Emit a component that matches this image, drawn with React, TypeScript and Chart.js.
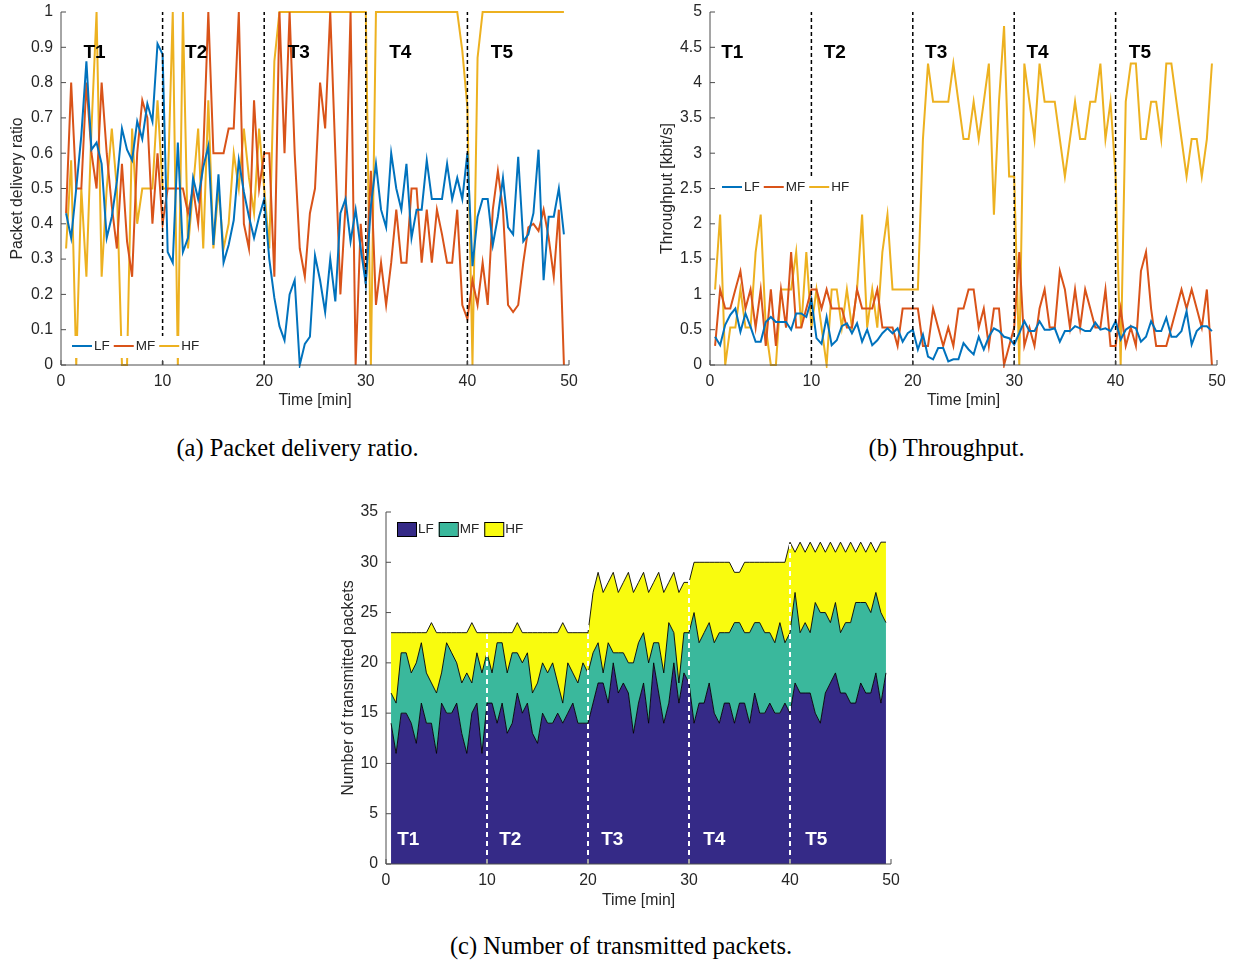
import React, { useEffect, useRef } from "react";
import { Chart, registerables } from "chart.js";

Chart.register(...registerables);

// ---------------- data ----------------
const SERIES_NAMES = ["LF", "MF", "HF"];
const PERIOD_LABELS = ["T1", "T2", "T3", "T4", "T5"];
const PERIOD_BOUNDS = [10, 20, 30, 40];
const X_TICKS_MAX = 50;

// (a) packet delivery ratio
const LF_PDR = [
  0.43, 0.36, 0.5, 0.65, 0.86, 0.61, 0.63, 0.57, 0.36, 0.42, 0.52, 0.67, 0.61, 0.58, 0.69, 0.64, 0.74, 0.69, 0.91, 0.88,
  0.32, 0.29, 0.63, 0.32, 0.36, 0.53, 0.47, 0.56, 0.62, 0.34, 0.54, 0.29, 0.34, 0.41, 0.58, 0.49, 0.42, 0.36, 0.42, 0.47,
  0.3, 0.19, 0.11, 0.07, 0.2, 0.24, 0.0, 0.06, 0.08, 0.31, 0.24, 0.15, 0.3, 0.18, 0.43, 0.47, 0.35, 0.44, 0.33, 0.23,
  0.45, 0.57, 0.44, 0.39, 0.6, 0.5, 0.44, 0.57, 0.36, 0.44, 0.44, 0.58, 0.47, 0.47, 0.47, 0.57, 0.47, 0.53, 0.47, 0.6,
  0.28, 0.42, 0.47, 0.47, 0.34, 0.42, 0.53, 0.39, 0.37, 0.59, 0.35, 0.37, 0.43, 0.61, 0.24, 0.42, 0.42, 0.5, 0.37,
];
const MF_PDR = [
  0.43, 0.8, 0.5, 0.5, 0.8, 0.6, 0.5, 0.8, 0.6, 0.45, 0.33, 0.57, 0.35, 0.25, 0.6, 0.75, 0.7, 0.4, 0.6, 0.4,
  0.5, 0.5, 0.5, 0.5, 0.43, 0.5, 0.4, 0.6, 1.0, 0.6, 0.6, 0.6, 0.67, 0.67, 1.0, 0.4, 0.33, 0.75, 0.5, 0.6,
  0.6, 0.25, 1.0, 0.6, 1.0, 0.6, 0.33, 0.25, 0.43, 0.5, 0.8, 0.67, 1.0, 0.6, 0.2, 0.45, 1.0, 0.0, 0.4, 0.23,
  0.55, 0.17, 0.29, 0.17, 0.29, 0.44, 0.29, 0.29, 0.5, 0.5, 0.29, 0.44, 0.29, 0.44, 0.37, 0.29, 0.29, 0.44, 0.17, 0.13,
  0.24, 0.17, 0.29, 0.17, 0.44, 0.55, 0.44, 0.17, 0.15, 0.17, 0.29, 0.39, 0.4, 0.38, 0.44, 0.36, 0.25, 0.44, 0.0,
];
const HF_PDR = [
  0.33, 0.58, 0.0, 0.5, 0.25, 0.67, 1.0, 0.25, 0.5, 0.67, 0.5, 0.0, 0.0, 0.67, 0.4, 0.5, 0.5, 0.5, 0.75, 0.5,
  0.5, 1.0, 0.0, 1.0, 0.33, 0.5, 0.67, 0.33, 0.75, 0.33, 0.5, 0.33, 0.4, 0.6, 0.5, 0.67, 0.53, 0.43, 0.67, 0.5,
  0.33, 0.86, 1.0, 1.0, 1.0, 1.0, 1.0, 1.0, 1.0, 1.0, 1.0, 1.0, 1.0, 1.0, 1.0, 1.0, 1.0, 1.0, 1.0, 1.0,
  0.0, 1.0, 1.0, 1.0, 1.0, 1.0, 1.0, 1.0, 1.0, 1.0, 1.0, 1.0, 1.0, 1.0, 1.0, 1.0, 1.0, 1.0, 0.89, 0.73,
  0.0, 0.87, 1.0, 1.0, 1.0, 1.0, 1.0, 1.0, 1.0, 1.0, 1.0, 1.0, 1.0, 1.0, 1.0, 1.0, 1.0, 1.0, 1.0,
];

// (b) throughput [kbit/s]
const LF_TP = [
  0.4, 0.28, 0.57, 0.71, 0.8, 0.47, 0.73, 0.54, 0.33, 0.33, 0.61, 0.68, 0.61, 0.61, 0.61, 0.5, 0.73, 0.73, 0.68, 0.93,
  0.38, 0.3, 0.68, 0.28, 0.35, 0.55, 0.59, 0.45, 0.59, 0.33, 0.5, 0.28, 0.35, 0.45, 0.52, 0.45, 0.52, 0.33, 0.45, 0.5,
  0.22, 0.43, 0.12, 0.08, 0.24, 0.24, 0.05, 0.08, 0.08, 0.31, 0.22, 0.15, 0.4, 0.22, 0.4, 0.52, 0.48, 0.4, 0.38, 0.29,
  0.45, 0.62, 0.48, 0.48, 0.62, 0.5, 0.5, 0.52, 0.33, 0.48, 0.48, 0.55, 0.52, 0.48, 0.48, 0.6, 0.5, 0.52, 0.48, 0.62,
  0.36, 0.5, 0.55, 0.52, 0.33, 0.4, 0.62, 0.48, 0.48, 0.67, 0.4, 0.4, 0.48, 0.76, 0.29, 0.48, 0.55, 0.55, 0.48,
];
const MF_TP = [
  0.27, 1.07, 0.8, 0.8, 1.07, 1.33, 0.8, 1.07, 0.53, 1.07, 0.27, 1.07, 0.27, 1.07, 0.53, 1.6, 0.53, 0.53, 0.8, 1.07,
  1.07, 0.8, 1.07, 0.8, 0.8, 0.8, 0.53, 0.53, 1.07, 0.8, 0.8, 0.8, 1.07, 0.53, 0.53, 0.53, 0.27, 0.8, 0.8, 0.8,
  0.8, 0.27, 0.27, 0.8, 0.53, 0.27, 0.53, 0.27, 0.8, 0.8, 1.07, 1.07, 0.53, 0.8, 0.27, 0.8, 0.8, 0.0, 0.27, 0.53,
  1.6, 0.27, 0.53, 0.27, 0.8, 1.07, 0.53, 0.53, 1.33, 1.07, 0.53, 1.07, 0.53, 1.07, 0.8, 0.53, 0.53, 1.07, 0.27, 0.27,
  0.8, 0.27, 0.53, 0.27, 1.33, 1.6, 0.8, 0.27, 0.27, 0.27, 0.53, 0.8, 1.07, 0.8, 1.07, 0.8, 0.53, 1.07, 0.0,
];
const HF_TP = [
  1.07, 2.13, 0.0, 0.53, 0.53, 1.07, 0.53, 0.53, 1.6, 2.13, 0.53, 0.0, 0.0, 1.07, 1.07, 1.07, 1.6, 0.53, 1.6, 0.53,
  1.07, 0.53, 0.0, 1.07, 1.07, 0.53, 1.07, 0.53, 1.07, 2.13, 0.53, 1.07, 0.53, 1.6, 2.13, 1.07, 1.07, 1.07, 1.07, 1.07,
  1.07, 3.2, 4.27, 3.73, 3.73, 3.73, 3.73, 4.27, 3.73, 3.2, 3.2, 3.73, 3.2, 3.73, 4.27, 2.13, 3.73, 4.8, 2.67, 2.67,
  0.0, 4.27, 3.73, 3.2, 4.27, 3.73, 3.73, 3.73, 3.2, 2.67, 3.2, 3.73, 3.2, 3.2, 3.73, 3.73, 4.27, 3.2, 3.73, 2.67,
  0.0, 3.73, 4.27, 4.27, 3.2, 3.2, 3.73, 3.73, 3.2, 4.27, 4.27, 3.73, 3.2, 2.67, 3.2, 3.2, 2.67, 3.2, 4.27,
];

// (c) number of transmitted packets (per class, stacked)
const LF_PKT = [
  14, 11, 15, 15, 14, 12, 16, 14, 14, 11, 16, 15, 15, 16, 13, 11, 15, 16, 11, 16,
  16, 14, 16, 13, 14, 17, 15, 16, 13, 12, 15, 14, 14, 15, 14, 15, 16, 14, 14, 14,
  16, 18, 18, 16, 20, 17, 18, 17, 13, 16, 18, 14, 20, 17, 14, 16, 20, 16, 19, 18,
  14, 16, 16, 18, 15, 14, 16, 16, 14, 16, 16, 14, 17, 15, 15, 16, 15, 15, 16, 15,
  18, 17, 17, 17, 15, 14, 17, 18, 19, 17, 17, 16, 16, 18, 17, 17, 19, 16, 19,
];
const MF_PKT = [
  3, 5, 6, 6, 5, 8, 6, 5, 4, 6, 3, 7, 6, 4, 5, 8, 3, 5, 8, 5,
  3, 8, 6, 6, 7, 4, 5, 5, 4, 6, 5, 5, 6, 3, 2, 5, 3, 4, 6, 5,
  5, 4, 1, 6, 1, 4, 3, 3, 7, 6, 5, 6, 2, 5, 5, 8, 3, 2, 4, 5,
  11, 6, 7, 6, 7, 9, 7, 7, 10, 8, 7, 9, 7, 9, 8, 7, 7, 9, 6, 8,
  9, 6, 7, 6, 11, 11, 8, 6, 7, 6, 7, 8, 10, 8, 9, 8, 8, 9, 5,
];
const HF_PKT = [
  6, 7, 2, 2, 4, 3, 1, 4, 6, 6, 4, 1, 2, 3, 5, 4, 6, 2, 4, 2,
  4, 1, 1, 4, 2, 3, 3, 2, 6, 5, 3, 4, 3, 5, 8, 3, 4, 5, 3, 4,
  6, 7, 8, 6, 8, 6, 7, 9, 7, 6, 6, 7, 6, 7, 8, 4, 6, 9, 5, 5,
  5, 8, 7, 6, 8, 7, 7, 7, 5, 5, 7, 7, 6, 6, 7, 7, 8, 6, 8, 9,
  4, 9, 7, 9, 5, 7, 6, 8, 5, 9, 7, 8, 5, 6, 5, 7, 4, 7, 8,
];

// sample times [min], one sample every 30 s
const TIME = LF_PDR.map((_, k) => (k + 1) * 0.5);

// ---------------- styles ----------------
const FONT = "'Liberation Sans', Arial, Helvetica, sans-serif";
const TEXT_COLOR = "#262626";
const AXIS_COLOR = "#4d4d4d";
const LINE_COLORS = ["#0072BD", "#D95319", "#EDB120"];
const AREA_COLORS = ["#352A87", "#3AB89C", "#F9FB0E"];
const TICK_FONT = { family: FONT, size: 15.8 };

type LegendSpec = { x: number; y: number; kind: "line" | "box"; bg?: [number, number, number, number] };
type Spec = {
  yMax: number;
  yStep: number;
  yTitle: string;
  yAxisW: number;
  xAxisH: number;
  padTop: number;
  padRight: number;
  yTitlePad: number;
  labelX: number[];
  labelY: number;
  labelColor: string;
  dashColor: string;
  dashWidth: number;
  dash: number[];
  legend: LegendSpec;
};

function decorPlugin(spec: Spec) {
  return {
    id: "decor",
    afterDatasetsDraw(chart: any) {
      const { ctx, chartArea: a, scales } = chart;
      const x = scales.x;
      const y = scales.y;
      // period separators
      ctx.save();
      ctx.beginPath();
      ctx.rect(a.left, a.top, a.right - a.left, a.bottom - a.top);
      ctx.clip();
      ctx.strokeStyle = spec.dashColor;
      ctx.lineWidth = spec.dashWidth;
      ctx.setLineDash(spec.dash);
      for (const b of PERIOD_BOUNDS) {
        const px = x.getPixelForValue(b);
        ctx.beginPath();
        ctx.moveTo(px, a.bottom);
        ctx.lineTo(px, a.top);
        ctx.stroke();
      }
      ctx.restore();

      // axes with inward ticks
      ctx.save();
      ctx.strokeStyle = AXIS_COLOR;
      ctx.lineWidth = 1;
      ctx.setLineDash([]);
      ctx.beginPath();
      ctx.moveTo(a.left, a.top);
      ctx.lineTo(a.left, a.bottom);
      ctx.lineTo(a.right, a.bottom);
      ctx.stroke();
      y.ticks.forEach((t: any) => {
        const py = y.getPixelForValue(t.value);
        ctx.beginPath();
        ctx.moveTo(a.left, py);
        ctx.lineTo(a.left + 5, py);
        ctx.stroke();
      });
      x.ticks.forEach((t: any) => {
        const px = x.getPixelForValue(t.value);
        ctx.beginPath();
        ctx.moveTo(px, a.bottom);
        ctx.lineTo(px, a.bottom - 5);
        ctx.stroke();
      });

      // period labels
      ctx.font = `bold 19px ${FONT}`;
      ctx.fillStyle = spec.labelColor;
      ctx.textAlign = "center";
      ctx.textBaseline = "middle";
      PERIOD_LABELS.forEach((t, k) => {
        ctx.fillText(t, x.getPixelForValue(spec.labelX[k]), y.getPixelForValue(spec.labelY));
      });

      // legend
      const L = spec.legend;
      if (L.bg) {
        ctx.fillStyle = "#ffffff";
        ctx.fillRect(L.bg[0], L.bg[1], L.bg[2], L.bg[3]);
      }
      ctx.font = `13.5px ${FONT}`;
      ctx.textAlign = "left";
      ctx.textBaseline = "middle";
      let cx = L.x;
      SERIES_NAMES.forEach((name, s) => {
        if (L.kind === "line") {
          ctx.strokeStyle = LINE_COLORS[s];
          ctx.lineWidth = 2;
          ctx.beginPath();
          ctx.moveTo(cx, L.y);
          ctx.lineTo(cx + 20, L.y);
          ctx.stroke();
          ctx.fillStyle = TEXT_COLOR;
          ctx.fillText(name, cx + 22, L.y + 0.5);
          cx += 22 + ctx.measureText(name).width + 4;
        } else {
          ctx.fillStyle = AREA_COLORS[s];
          ctx.fillRect(cx, L.y - 7, 19, 14);
          ctx.strokeStyle = "#000";
          ctx.lineWidth = 1;
          ctx.strokeRect(cx + 0.5, L.y - 6.5, 19, 14);
          ctx.fillStyle = TEXT_COLOR;
          ctx.fillText(name, cx + 21, L.y + 0.5);
          cx += 21 + ctx.measureText(name).width + 5;
        }
      });
      ctx.restore();
    },
  };
}

function tickFmt(v: any) {
  return String(+Number(v).toFixed(2));
}

function baseOptions(spec: Spec, stacked: boolean) {
  return {
    responsive: false,
    animation: false as const,
    devicePixelRatio: 1,
    layout: { padding: { left: 0, top: spec.padTop, right: spec.padRight, bottom: 0 } },
    plugins: { legend: { display: false }, tooltip: { enabled: false } },
    elements: { point: { radius: 0 }, line: { tension: 0 } },
    scales: {
      x: {
        type: "linear" as const,
        min: 0,
        max: X_TICKS_MAX,
        afterFit: (s: any) => {
          s.height = spec.xAxisH;
          s.paddingLeft = 0;
          s.paddingRight = 0;
        },
        ticks: { stepSize: 10, padding: 7, color: TEXT_COLOR, font: TICK_FONT, maxRotation: 0, callback: tickFmt },
        grid: { display: false, drawTicks: false },
        border: { display: false },
        title: {
          display: true,
          text: "Time [min]",
          color: TEXT_COLOR,
          font: TICK_FONT,
          padding: { top: 0, bottom: 9.5 },
        },
      },
      y: {
        type: "linear" as const,
        min: 0,
        max: spec.yMax,
        stacked,
        afterFit: (s: any) => {
          s.width = spec.yAxisW;
          s.paddingTop = 0;
          s.paddingBottom = 0;
        },
        ticks: { stepSize: spec.yStep, padding: 8, color: TEXT_COLOR, font: TICK_FONT, callback: tickFmt },
        grid: { display: false, drawTicks: false },
        border: { display: false },
        title: {
          display: true,
          text: spec.yTitle,
          color: TEXT_COLOR,
          font: TICK_FONT,
          padding: { top: spec.yTitlePad, bottom: 0 },
        },
      },
    },
  };
}

function lineChart(canvas: HTMLCanvasElement, series: number[][], spec: Spec) {
  return new Chart(canvas, {
    type: "line",
    data: {
      datasets: series.map((arr, s) => ({
        label: SERIES_NAMES[s],
        data: TIME.map((t, k) => ({ x: t, y: arr[k] })),
        borderColor: LINE_COLORS[s],
        backgroundColor: LINE_COLORS[s],
        borderWidth: 2,
        pointRadius: 0,
        fill: false,
        clip: 3,
      })),
    },
    options: baseOptions(spec, false) as any,
    plugins: [decorPlugin(spec)],
  });
}

function areaChart(canvas: HTMLCanvasElement, series: number[][], spec: Spec) {
  return new Chart(canvas, {
    type: "line",
    data: {
      datasets: series.map((arr, s) => ({
        label: SERIES_NAMES[s],
        data: TIME.map((t, k) => ({ x: t, y: arr[k] })),
        borderColor: "#000000",
        backgroundColor: AREA_COLORS[s],
        borderWidth: 0.9,
        pointRadius: 0,
        fill: s === 0 ? "origin" : "-1",
      })),
    },
    options: baseOptions(spec, true) as any,
    plugins: [decorPlugin(spec)],
  });
}

const SPEC_A: Spec = {
  yMax: 1,
  yStep: 0.1,
  yTitle: "Packet delivery ratio",
  yAxisW: 61,
  xAxisH: 55,
  padTop: 12,
  padRight: 31,
  yTitlePad: 8,
  labelX: [3.3, 13.3, 23.4, 33.4, 43.4],
  labelY: 0.884,
  labelColor: "#000000",
  dashColor: "#000000",
  dashWidth: 1.5,
  dash: [4, 3],
  legend: { x: 72, y: 346, kind: "line", bg: [63, 336, 143, 22] },
};

const SPEC_B: Spec = {
  yMax: 5,
  yStep: 0.5,
  yTitle: "Throughput [kbit/s]",
  yAxisW: 70,
  xAxisH: 55,
  padTop: 12,
  padRight: 18,
  yTitlePad: 18,
  labelX: [2.2, 12.3, 22.3, 32.3, 42.4],
  labelY: 4.42,
  labelColor: "#000000",
  dashColor: "#000000",
  dashWidth: 1.5,
  dash: [4, 3],
  legend: { x: 82, y: 187, kind: "line", bg: [75, 176, 143, 22] },
};

const SPEC_C: Spec = {
  yMax: 35,
  yStep: 5,
  yTitle: "Number of transmitted packets",
  yAxisW: 66,
  xAxisH: 56,
  padTop: 22,
  padRight: 29,
  yTitlePad: 19,
  labelX: [2.2, 12.3, 22.4, 32.5, 42.6],
  labelY: 2.39,
  labelColor: "#ffffff",
  dashColor: "#ffffff",
  dashWidth: 2,
  dash: [5, 4],
  legend: { x: 77, y: 39, kind: "box" },
};

const captionStyle = (cx: number, cy: number): React.CSSProperties => ({
  position: "absolute",
  left: cx,
  top: cy,
  transform: "translate(-50%, -50%)",
  fontFamily: "'Liberation Serif', 'Times New Roman', serif",
  fontSize: 24.5,
  lineHeight: 1,
  whiteSpace: "nowrap",
  color: "#000",
});

export default function App() {
  const refA = useRef<HTMLCanvasElement>(null);
  const refB = useRef<HTMLCanvasElement>(null);
  const refC = useRef<HTMLCanvasElement>(null);

  useEffect(() => {
    const charts: Chart[] = [];
    if (refA.current) charts.push(lineChart(refA.current, [LF_PDR, MF_PDR, HF_PDR], SPEC_A));
    if (refB.current) charts.push(lineChart(refB.current, [LF_TP, MF_TP, HF_TP], SPEC_B));
    if (refC.current) charts.push(areaChart(refC.current, [LF_PKT, MF_PKT, HF_PKT], SPEC_C));
    return () => charts.forEach((c) => c.destroy());
  }, []);

  return (
    <div style={{ position: "absolute", left: 0, top: 0, width: 1235, height: 961, background: "#fff", overflow: "hidden" }}>
      <canvas ref={refA} width={600} height={420} style={{ position: "absolute", left: 0, top: 0, width: 600, height: 420 }} />
      <canvas ref={refB} width={595} height={420} style={{ position: "absolute", left: 640, top: 0, width: 595, height: 420 }} />
      <canvas ref={refC} width={600} height={430} style={{ position: "absolute", left: 320, top: 490, width: 600, height: 430 }} />
      <div style={captionStyle(297.5, 448)}>(a) Packet delivery ratio.</div>
      <div style={captionStyle(946.5, 448)}>(b) Throughput.</div>
      <div style={captionStyle(621, 946)}>(c) Number of transmitted packets.</div>
    </div>
  );
}
